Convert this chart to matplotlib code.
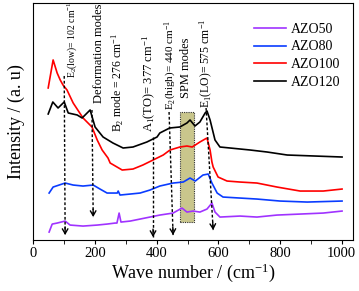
import numpy as np
import matplotlib
matplotlib.use('Agg')
import matplotlib.pyplot as plt
from matplotlib.patches import Rectangle

plt.rcParams['font.family'] = ['Liberation Serif', 'DejaVu Serif']
plt.rcParams['mathtext.fontset'] = 'custom'
plt.rcParams['mathtext.rm'] = 'Liberation Serif'
plt.rcParams['mathtext.it'] = 'Liberation Serif:italic'

# spectra (wave number, intensity in arbitrary units)
x_120 = [48, 63, 80, 100, 113, 142, 158, 184, 200, 226, 258, 291, 323, 368, 401, 410,
         442, 475, 498, 508, 524, 540, 557, 563, 573, 589, 605, 638, 703, 758, 823, 1001]
y_120 = [126, 138, 132, 138, 127, 125, 122, 130, 113, 103, 97, 92, 93, 98, 103, 107,
         112, 113, 117, 120, 114, 118, 127, 129, 120, 100, 93, 92, 90, 88, 85, 83]

x_100 = [48, 64, 77, 87, 96, 109, 129, 161, 190, 207, 223, 242, 249, 288, 323, 355,
         388, 421, 443, 475, 498, 515, 540, 557, 563, 573, 579, 583, 599, 628, 670,
         725, 790, 865, 940, 1001]
y_100 = [152, 180, 167, 160, 155, 150, 137, 122, 113, 100, 90, 82, 77, 70, 71, 75,
         80, 85, 90, 93, 94, 93, 98, 101, 102, 90, 78, 73, 63, 59, 58,
         57, 53, 49, 49, 51]

x_80 = [51, 64, 103, 129, 161, 194, 216, 239, 272, 275, 281, 314, 346, 378, 410, 453,
        486, 508, 525, 550, 567, 579, 596, 615, 670, 725, 800, 888, 1001]
y_80 = [47, 53, 57, 55, 54, 55, 51, 47, 47, 49, 45, 46, 47, 50, 54, 57,
        58, 62, 59, 65, 66, 57, 47, 43, 42, 41, 39, 38, 39]

x_50 = [51, 61, 77, 103, 119, 161, 207, 239, 265, 271, 278, 284, 314, 346, 378, 410,
        453, 482, 498, 518, 540, 563, 579, 589, 605, 670, 725, 790, 865, 940, 1001]
y_50 = [8, 16, 17, 19, 15, 14, 15, 16, 17, 17, 27, 18, 19, 21, 23, 25,
        27, 32, 28, 29, 28, 31, 37, 28, 23, 24, 23, 25, 26, 27, 29]

series = [('AZO50', x_50, y_50, '#a033ff'),
          ('AZO80', x_80, y_80, '#0a3cff'),
          ('AZO100', x_100, y_100, '#ff0000'),
          ('AZO120', x_120, y_120, '#000000')]

# mode markers: label, text x, text y, line top (x, y), arrow tip (x, y)
mode_labels = ['E$_2$(low)= 102 cm$^{-1}$', 'Deformation modes',
               'B$_2$ mode = 276 cm$^{-1}$', 'A$_1$(TO)= 377 cm$^{-1}$',
               'E$_2$(high)= 440 cm$^{-1}$', 'SPM modes', 'E$_1$(LO)= 575 cm$^{-1}$']
label_sizes = [7, 9, 8.5, 9, 8, 9, 8.5]
text_x = [127, 213, 275, 375, 447, 495, 563]
text_y = [162, 137, 108, 108, 130, 142, 132]
line_top_x = [100, 190, 388, 440, 560]
line_top_y = [164, 130, 103, 128, 132]
tip_x = [103, 194, 388, 453, 583]
tip_y = [5, 23, 3, 5, 10]
spm_band = (476, 521)
spm_y = (18, 128)

fig = plt.figure(figsize=(3.59, 2.91), dpi=100)
ax = fig.add_axes([0.093, 0.175, 0.889, 0.815])

for name, xs, ys, c in series:
    ax.plot(xs, ys, color=c, lw=1.2, label=name)

ax.add_patch(Rectangle((spm_band[0], spm_y[0]), spm_band[1] - spm_band[0],
                       spm_y[1] - spm_y[0], facecolor='#c9c68c', edgecolor='#333333',
                       lw=0.8, linestyle=(0, (1, 1)), zorder=0))

for x0, y0, x1, y1 in zip(line_top_x, line_top_y, tip_x, tip_y):
    ax.plot([x0, x1], [y0, y1], color='k', lw=1, linestyle=(0, (2, 1.5)))
    dx = (x1 - x0) / (y0 - y1) * 8
    ax.annotate('', xy=(x1, y1), xytext=(x1 - dx, y1 + 8),
                arrowprops=dict(arrowstyle='->,head_length=0.35,head_width=0.2',
                                color='k', lw=1, shrinkA=0, shrinkB=0))

for lab, tx, ty, fs in zip(mode_labels, text_x, text_y, label_sizes):
    ax.text(tx, ty, lab, rotation=90, ha='center', va='bottom', fontsize=fs)

ax.set_xlim(0, 1035)
ax.set_ylim(0, 237)
ax.set_xticks([0, 200, 400, 600, 800, 1000])
ax.set_xticks(np.arange(100, 1001, 200), minor=True)
ax.set_yticks([])
ax.tick_params(axis='x', which='both', direction='out', length=3, labelsize=10.5, pad=2)
ax.set_xlabel('Wave number / (cm$^{-1}$)', fontsize=13, labelpad=1)
ax.set_ylabel('Intensity / (a. u)', fontsize=13, labelpad=6)

ax.legend(loc='upper right', frameon=False, fontsize=10, handlelength=2.3,
          handletextpad=0.3, labelspacing=0.35, bbox_to_anchor=(1.0, 0.97))

fig.savefig('out.png', dpi=100)
